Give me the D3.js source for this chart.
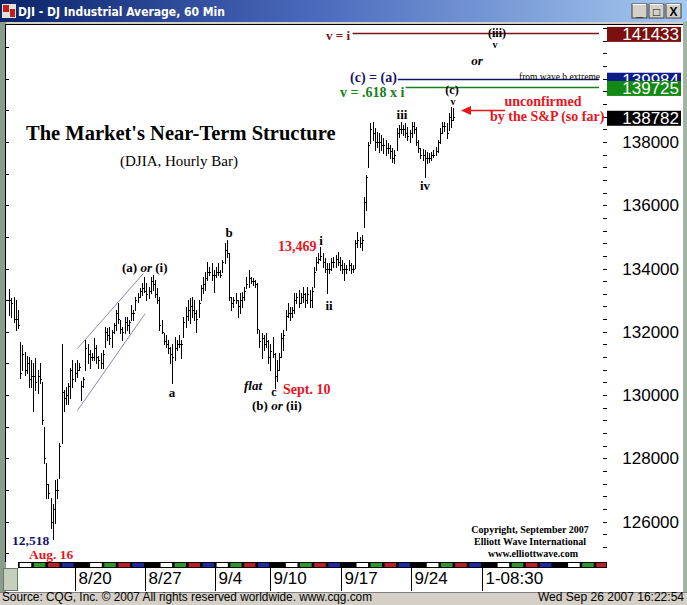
<!DOCTYPE html>
<html>
<head>
<meta charset="utf-8">
<script src="https://cdn.jsdelivr.net/npm/d3@7"></script>
<style>
  body { margin: 0; background: #d4d0c8; overflow: hidden; }
  svg { display: block; }
</style>
</head>
<body>
<div id="chart"></div>
<script>
// hourly bars, DJIA points (axis shows them x10)
var highs = [
  13334,13306,13309,13300,13268,13167,13157,13135,13125,13119,
  13110,13100,13116,13078,13100,13040,12898,12784,12720,12676,
  12657,12730,12736,12847,13163,13015,13024,13037,13087,13110,
  13100,13110,13100,13046,13056,13173,13163,13141,13132,13179,
  13157,13125,13132,13141,13214,13211,13214,13205,13227,13268,
  13290,13236,13214,13246,13246,13236,13284,13268,13309,13322,
  13338,13353,13372,13353,13341,13372,13379,13363,13338,13309,
  13236,13195,13189,13173,13151,13163,13182,13173,13189,13173,
  13246,13277,13300,13306,13309,13300,13268,13300,13347,13372,
  13388,13420,13404,13417,13394,13404,13417,13394,13426,13480,
  13489,13448,13309,13309,13322,13300,13322,13325,13341,13372,
  13394,13372,13369,13363,13353,13205,13195,13189,13195,13173,
  13163,13182,13132,13110,13132,13195,13205,13268,13290,13277,
  13277,13322,13322,13331,13322,13341,13322,13341,13331,13341,
  13404,13436,13448,13469,13448,13432,13417,13417,13432,13436,
  13442,13451,
  13436,13426,13417,13410,13426,13417,13410,13489,13515,13499,
  13505,13626,13695,13800,13860,13863,13844,13831,13828,13822,
  13812,13806,13796,13790,13781,13774,13844,13853,13863,13853,
  13860,13847,13838,13863,13863,13847,13806,13781,13777,13774,
  13768,13765,13768,13774,13784,13806,13844,13863,13863,13860,
  13891,13910,13907
];
var lows = [
  13252,13246,13230,13205,13211,13053,13078,13062,13069,13024,
  13024,12951,13015,13005,13037,12910,12784,12676,12676,12581,
  12545,12594,12676,12739,12847,12951,12973,12973,12992,13024,
  13046,13056,13078,12983,13024,13078,13100,13087,13110,13110,
  13100,13087,13087,13087,13151,13173,13163,13151,13195,13205,
  13227,13195,13173,13195,13205,13195,13236,13236,13268,13293,
  13309,13315,13325,13300,13306,13322,13331,13309,13290,13205,
  13195,13163,13151,13132,13100,13037,13110,13141,13151,13116,
  13182,13214,13236,13227,13246,13236,13198,13246,13300,13322,
  13331,13363,13379,13363,13325,13372,13379,13372,13388,13417,
  13436,13300,13268,13277,13290,13246,13258,13277,13300,13338,
  13341,13353,13347,13341,13195,13151,13116,13141,13151,13100,
  13078,13119,13021,13046,13078,13119,13141,13205,13246,13236,
  13246,13258,13290,13277,13290,13293,13277,13290,13277,13277,
  13341,13394,13417,13426,13404,13388,13322,13385,13394,13404,
  13404,13410,
  13394,13385,13363,13385,13394,13385,13388,13401,13467,13467,
  13458,13531,13584,13720,13796,13806,13774,13784,13768,13774,
  13765,13758,13765,13749,13736,13733,13774,13815,13828,13822,
  13815,13806,13800,13815,13828,13790,13768,13749,13743,13689,
  13733,13736,13743,13752,13758,13768,13796,13828,13834,13812,
  13838,13847,13870
];
var closes = [
  13300,13290,13240,13240,13220,13070,13130,13080,13100,13050,
  13060,13060,13040,13060,13050,12920,12800,12720,12690,12600,
  12640,12700,12700,12840,13010,12990,13000,13030,13080,13050,
  13070,13080,13090,13030,13050,13150,13130,13120,13120,13150,
  13120,13110,13100,13130,13200,13190,13180,13200,13220,13260,
  13240,13210,13200,13230,13220,13230,13260,13260,13300,13310,
  13330,13340,13330,13320,13330,13360,13350,13320,13300,13220,
  13200,13170,13160,13150,13130,13120,13150,13160,13160,13160,
  13230,13250,13270,13280,13270,13260,13240,13290,13340,13350,
  13370,13390,13390,13380,13380,13390,13390,13380,13420,13460,
  13450,13310,13290,13300,13300,13280,13300,13310,13330,13350,
  13370,13360,13360,13350,13210,13170,13180,13160,13170,13120,
  13140,13130,13060,13080,13120,13180,13190,13250,13260,13260,
  13270,13300,13310,13290,13310,13320,13300,13320,13300,13330,
  13390,13420,13430,13440,13420,13400,13400,13400,13420,13420,
  13430,13420,
  13410,13400,13400,13400,13410,13400,13400,13480,13490,13480,
  13490,13610,13690,13790,13840,13830,13800,13800,13800,13790,
  13790,13780,13780,13770,13750,13760,13830,13840,13840,13840,
  13830,13820,13830,13850,13840,13800,13780,13760,13760,13750,
  13750,13750,13760,13760,13770,13800,13830,13850,13850,13830,
  13880,13870,13878.2
];
var lastPrice = 13878.2;

// week separators on the time axis, in bar units
var weekStarts = [-2.4, 30, 62.4, 94.6, 119.9, 152.5, 184.7, 217.3, 249.7, 282.1];
var weekLabels = [null, '8/20', '8/27', '9/4', '9/10', '9/17', '9/24', '1-08:30', null];
var weekFirstDay = [0, 0, 0, 1, 0, 0, 0, 0, 0];   // 9/4 week starts on Tuesday
var dayColors = ['#000000', '#ffffff', '#2a9a2a', '#c01c28', '#1c2aa8'];

var priceTicks = [12600, 12800, 13000, 13200, 13400, 13600, 13800];

// projection levels
var levels = [
  { label: 'v = i', value: 14143.3, color: '#7a1414', box: '#7a1010', from: 157.8 },
  { label: '(c) = (a)', value: 13998.4, color: '#14146e', box: '#0c1a8c', from: 178.6 },
  { label: 'v = .618 x i', value: 13972.5, color: '#17801a', box: '#148a14', from: 182.2 }
];

// channel drawn around the first advance
var channel = [
  [[31.3, 13147], [61.6, 13384]],
  [[31.3, 12951], [62.4, 13257]]
];

var W = 687, H = 605;
var svg = d3.select('#chart').append('svg')
    .attr('width', W).attr('height', H)
    .style('font-family', 'Liberation Serif, serif');

// ---- window chrome ----
var defs = svg.append('defs');
var grad = defs.append('linearGradient').attr('id', 'tb');
grad.append('stop').attr('offset', '0').attr('stop-color', '#0a246a');
grad.append('stop').attr('offset', '0.45').attr('stop-color', '#4a68bc');
grad.append('stop').attr('offset', '1').attr('stop-color', '#a6caf0');

svg.append('rect').attr('width', W).attr('height', H).attr('fill', '#d4d0c8');
svg.append('rect').attr('width', W).attr('height', 22).attr('fill', 'url(#tb)');

svg.append('rect').attr('x', 2).attr('y', 4).attr('width', 14).attr('height', 14).attr('fill', '#e8e0d8');
svg.append('rect').attr('x', 3).attr('y', 5).attr('width', 6).attr('height', 7).attr('fill', '#c02020');
svg.append('rect').attr('x', 10).attr('y', 9).attr('width', 5).attr('height', 8).attr('fill', '#c02020');

svg.append('text')
    .attr('x', 18).attr('y', 16)
    .attr('fill', '#fff')
    .style('font-family', 'DejaVu Sans Condensed, DejaVu Sans, sans-serif')
    .style('font-weight', 'bold')
    .attr('font-size', '12px')
    .text('DJI - DJ Industrial Average, 60 Min');

var btns = ['_', '\u25a1', 'X'];
btns.forEach(function(b, i) {
    var bx = 632 + i * 17;
    svg.append('rect').attr('x', bx).attr('y', 4).attr('width', 15).attr('height', 14)
        .attr('fill', '#d4d0c8').attr('stroke', '#404040');
    svg.append('line').attr('x1', bx + 0.5).attr('x2', bx + 14).attr('y1', 4.5).attr('y2', 4.5).attr('stroke', '#fff');
    svg.append('text').attr('x', bx + 7.5).attr('y', 15.5).attr('text-anchor', 'middle')
        .style('font-family', 'Liberation Sans, sans-serif').style('font-weight', 'bold')
        .attr('font-size', '12px').text(b);
});

// chart body
svg.append('rect').attr('x', 0).attr('y', 22).attr('width', 6).attr('height', 570).attr('fill', '#8c9c8c');
svg.append('rect').attr('x', 683).attr('y', 22).attr('width', 4).attr('height', 570).attr('fill', '#a4b4a4');
svg.append('rect').attr('x', 6).attr('y', 24).attr('width', 677).attr('height', 568).attr('fill', '#fff');
svg.append('line').attr('x1', 6).attr('x2', 683).attr('y1', 24.5).attr('y2', 24.5).attr('stroke', '#000');
svg.append('line').attr('x1', 5.5).attr('x2', 5.5).attr('y1', 24).attr('y2', 562).attr('stroke', '#000');

// ---- scales ----
var x = d3.scaleLinear().domain([0, 272]).range([9.3, 601]);
var y = d3.scaleLinear().domain([12600, 13800]).range([521.6, 142]);
var px = function(v) { return Math.round(v) + 0.5; };

// left minor ticks
var leftTicks = d3.range(12500, 14200, 100);
svg.append('g').selectAll('line').data(leftTicks).enter().append('line')
    .attr('x1', 6).attr('x2', 9)
    .attr('y1', d => px(y(d))).attr('y2', d => px(y(d)))
    .attr('stroke', '#000');

// right axis
var yAxis = d3.axisLeft(y)
    .tickValues(d3.range(12520, 14200, 40))
    .tickSize(4)
    .tickFormat('');
var gy = svg.append('g').attr('transform', 'translate(606.5,0)').call(yAxis);
gy.select('.domain').remove();
gy.selectAll('.tick line').attr('stroke', '#000').attr('shape-rendering', 'crispEdges');

svg.append('g').selectAll('text').data(priceTicks).enter().append('text')
    .attr('x', 679).attr('y', d => y(d) + 6)
    .attr('text-anchor', 'end')
    .style('font-family', 'Liberation Sans, Arial, sans-serif')
    .attr('font-size', '17px')
    .text(d => d3.format('d')(d * 10));

// ---- channel ----
svg.append('g').selectAll('line').data(channel).enter().append('line')
    .attr('x1', d => x(d[0][0])).attr('y1', d => y(d[0][1]))
    .attr('x2', d => x(d[1][0])).attr('y2', d => y(d[1][1]))
    .attr('stroke', '#6a6aa0').attr('stroke-width', 0.8);

// ---- bars ----
var bars = svg.append('g').attr('shape-rendering', 'crispEdges').attr('stroke', '#000');
var bar = bars.selectAll('g').data(highs).enter().append('g');
bar.append('line')
    .attr('x1', (d, i) => px(x(i))).attr('x2', (d, i) => px(x(i)))
    .attr('y1', d => Math.round(y(d)))
    .attr('y2', (d, i) => Math.round(y(lows[i])) + 1);
bar.append('line')
    .attr('x1', (d, i) => Math.round(x(i)) + 1).attr('x2', (d, i) => Math.round(x(i)) + 2)
    .attr('y1', (d, i) => px(y(closes[i]))).attr('y2', (d, i) => px(y(closes[i])));

// ---- level lines + boxes ----
levels.forEach(function(l) {
    svg.append('line')
        .attr('x1', x(l.from)).attr('x2', 599)
        .attr('y1', px(y(l.value))).attr('y2', px(y(l.value)))
        .attr('stroke', l.color).attr('stroke-width', 1.3);
});
var boxes = levels.concat([{ value: lastPrice, box: '#000' }]);
var boxTop = boxes.map(l => y(l.value) + 1 - 7.5);
boxes.forEach(function(l, i) {
    var cy = y(l.value) + 1;
    // a box drawn later covers the one above it, as on the terminal
    var next = boxTop[i + 1];
    var clipH = (next !== undefined && next < cy + 7.5) ? next - (cy - 7.5) : 15;
    defs.append('clipPath').attr('id', 'bc' + i)
        .append('rect').attr('x', 607).attr('y', cy - 7.5).attr('width', 74).attr('height', clipH);
    svg.append('rect').attr('x', 607).attr('y', cy - 7.5).attr('width', 74).attr('height', 15).attr('fill', l.box);
    svg.append('text').attr('x', 679).attr('y', cy + 6)
        .attr('clip-path', 'url(#bc' + i + ')')
        .attr('text-anchor', 'end').attr('fill', '#fff')
        .style('font-family', 'Liberation Sans, Arial, sans-serif')
        .attr('font-size', '17px')
        .text(d3.format('d')(Math.round(l.value * 10)));
});

// ---- time axis strip ----
var strip = svg.append('g');
strip.append('rect').attr('x', 18).attr('y', 562).attr('width', 589).attr('height', 6).attr('fill', '#000');
var days = [];
weekStarts.slice(0, -1).forEach(function(s, w) {
    var e = weekStarts[w + 1], n = 5 - weekFirstDay[w];
    for (var k = 0; k < n; k++) {
        days.push({ a: s + (e - s) * k / n, b: s + (e - s) * (k + 1) / n, c: dayColors[weekFirstDay[w] + k] });
    }
});
strip.selectAll('rect.day').data(days.filter(d => d.c !== '#000000')).enter().append('rect')
    .attr('class', 'day')
    .attr('x', d => Math.max(19, x(d.a) + 1.5))
    .attr('width', d => Math.max(0, Math.min(606, x(d.b) - 1) - Math.max(19, x(d.a) + 1.5)))
    .attr('y', 563).attr('height', 4)
    .attr('fill', d => d.c);

var wk = svg.append('g');
weekLabels.forEach(function(lb, i) {
    if (!lb) return;
    var sx = px(x(weekStarts[i]));
    wk.append('line').attr('x1', sx).attr('x2', sx).attr('y1', 568).attr('y2', 591).attr('stroke', '#000');
    wk.append('text').attr('x', sx + 3).attr('y', 584)
        .style('font-family', 'Liberation Sans, Arial, sans-serif')
        .attr('font-size', '17px').text(lb);
});
svg.append('rect').attr('x', 3.5).attr('y', 568.5).attr('width', 14).attr('height', 22)
    .attr('fill', '#c4d0bc').attr('stroke', '#6a7a6a');
svg.append('line').attr('x1', 0).attr('x2', 687).attr('y1', 592.5).attr('y2', 592.5).attr('stroke', '#808080');

// footer
svg.append('text').attr('x', 2).attr('y', 601)
    .style('font-family', 'Liberation Sans, Arial, sans-serif').attr('font-size', '12px')
    .attr('textLength', 370).attr('lengthAdjust', 'spacingAndGlyphs')
    .text('Source: CQG, Inc. \u00a9 2007 All rights reserved worldwide. www.cqg.com');
svg.append('text').attr('x', 538).attr('y', 601)
    .style('font-family', 'Liberation Sans, Arial, sans-serif').attr('font-size', '12px')
    .attr('textLength', 146).attr('lengthAdjust', 'spacingAndGlyphs')
    .text('Wed Sep 26 2007 16:22:54');

// ---- annotations ----
var RED = '#e8141c', NAVY = '#14146e';
function note(tx, ty, parts, opt) {
    opt = opt || {};
    var t = svg.append('text').attr('x', tx).attr('y', ty)
        .attr('text-anchor', opt.anchor || 'start')
        .attr('font-size', (opt.size || 13) + 'px')
        .style('font-weight', opt.weight || 'bold')
        .attr('fill', opt.color || '#000');
    [].concat(parts).forEach(function(p) {
        var s = typeof p === 'string' ? { t: p } : p;
        t.append('tspan').style('font-style', s.i ? 'italic' : 'normal').text(s.t);
    });
    return t;
}

note(26, 140, "The Market's Near-Term Structure", { size: 20.5 });
note(120, 166, '(DJIA, Hourly Bar)', { size: 15, weight: 'normal' });

note(122, 272, ['(a) ', { t: 'or', i: 1 }, ' (i)']);
note(172, 397, 'a', { anchor: 'middle' });
note(229, 237, 'b', { anchor: 'middle' });
note(278, 251, '13,469', { size: 14, color: RED });
note(321, 245, 'i', { anchor: 'middle' });
note(329, 310, 'ii', { anchor: 'middle' });
note(244, 390, [{ t: 'flat', i: 1 }]);
note(274, 396, 'c', { anchor: 'middle', size: 12 });
note(283, 394, 'Sept. 10', { size: 14, color: RED });
note(252, 410, ['(b) ', { t: 'or', i: 1 }, ' (ii)']);
note(12, 545, '12,518', { size: 13.5, color: NAVY });
note(29, 559, 'Aug. 16', { size: 13.5, color: RED });
note(402, 119, 'iii', { anchor: 'middle' });
note(425, 190, 'iv', { anchor: 'middle' });
note(452, 93.5, '(c)', { anchor: 'middle', size: 12 });
note(453, 104.5, 'v', { anchor: 'middle', size: 10 });
note(497, 37, '(iii)', { anchor: 'middle', size: 12 });
note(495, 48, 'v', { anchor: 'middle', size: 10 });
note(477, 65, [{ t: 'or', i: 1 }], { anchor: 'middle' });

note(350, 40, 'v = i', { anchor: 'end', color: '#7a1414' });
note(350, 82, '(c) = (a)', { size: 14, color: NAVY });
note(600, 80, 'from wave b extreme', { anchor: 'end', size: 9.5, weight: 'normal' });
note(340, 97, 'v = .618 x i', { size: 14, color: '#17801a' });

svg.append('line').attr('x1', 470).attr('x2', 505).attr('y1', 110.5).attr('y2', 110.5)
    .attr('stroke', RED).attr('stroke-width', 1.5);
svg.append('path').attr('d', 'M461,110.5 L471,106 L471,115 Z').attr('fill', RED);
note(543, 106, 'unconfirmed', { anchor: 'middle', size: 14, color: RED });
note(490, 121, 'by the S&P (so far)', { size: 14, color: RED });

note(530, 533, 'Copyright, September 2007', { anchor: 'middle', size: 10 });
note(530, 545, 'Elliott Wave International', { anchor: 'middle', size: 10 });
note(533, 557, 'www.elliottwave.com', { anchor: 'middle', size: 10 });
</script>
</body>
</html>
